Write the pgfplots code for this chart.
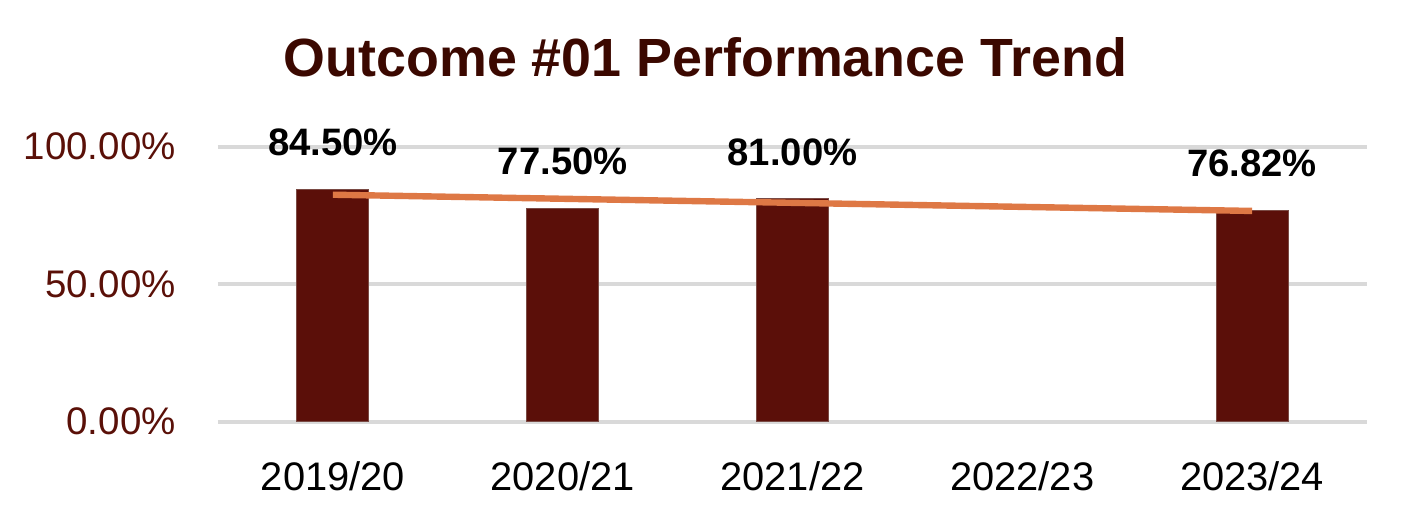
\documentclass[border=0pt]{standalone}
\usepackage{fontspec}
\setmainfont{Liberation Sans}
\usepackage{pgfplots}
\pgfplotsset{compat=1.18}

\definecolor{barmaroon}{HTML}{5B0F09}
\definecolor{barline}{HTML}{7A4A44}
\definecolor{trendorange}{HTML}{DE7845}
\definecolor{ticktext}{HTML}{5A1008}
\definecolor{titletext}{HTML}{3B0800}
\definecolor{gridgray}{HTML}{D9D9D9}

\begin{document}
\begin{tikzpicture}
% fix the page to the reference's 1418x532 px (709x266 bp)
\useasboundingbox (-109bp,-55.15bp) rectangle (600bp,210.85bp);
\begin{axis}[
    scale only axis,
    width=574.5bp, height=137.5bp,
    xmin=-0.5, xmax=4.5,
    ymin=0, ymax=100,
    axis line style={draw=none},
    major tick length=0pt,
    xtick={0,1,2,3,4},
    xticklabels={2019/20,2020/21,2021/22,2022/23,2023/24},
    ytick={0,50,100},
    ymajorgrids,
    grid style={gridgray, line width=2bp},
    /pgf/number format/assume math mode=true,
    yticklabel={\pgfmathprintnumber[fixed,fixed zerofill,precision=2]{\tick}\%},
    yticklabel style={font=\fontsize{19.3}{22}\selectfont, text=ticktext,
        anchor=east, inner sep=0pt, xshift=-21bp},
    xticklabel style={font=\fontsize{20}{22}\selectfont, text=black,
        anchor=base, inner sep=0pt, yshift=-34.3bp},
    clip=false,
]
\addplot[ybar, bar width=36bp, fill=barmaroon, draw=barline, line width=0.5bp,
    nodes near coords={\pgfmathprintnumber[fixed,fixed zerofill,precision=2]{\pgfplotspointmeta}\%},
    every node near coord/.append style={font=\bfseries\fontsize{19.2}{22}\selectfont,
        text=black, anchor=base, inner sep=0pt, yshift=16.8bp}]
    coordinates {
    (0,84.50)
    (1,77.50)
    (2,81.00)
    (4,76.82)
};
% linear trend line
\addplot[trendorange, line width=3.2bp] coordinates {
    (0,82.54)
    (4,76.64)
};
\end{axis}
\node[anchor=base, inner sep=0pt, text=titletext,
    font=\bfseries\fontsize{27}{30}\selectfont] at (243.75bp,172.8bp)
    {Outcome \#01 Performance Trend};
\end{tikzpicture}
\end{document}
